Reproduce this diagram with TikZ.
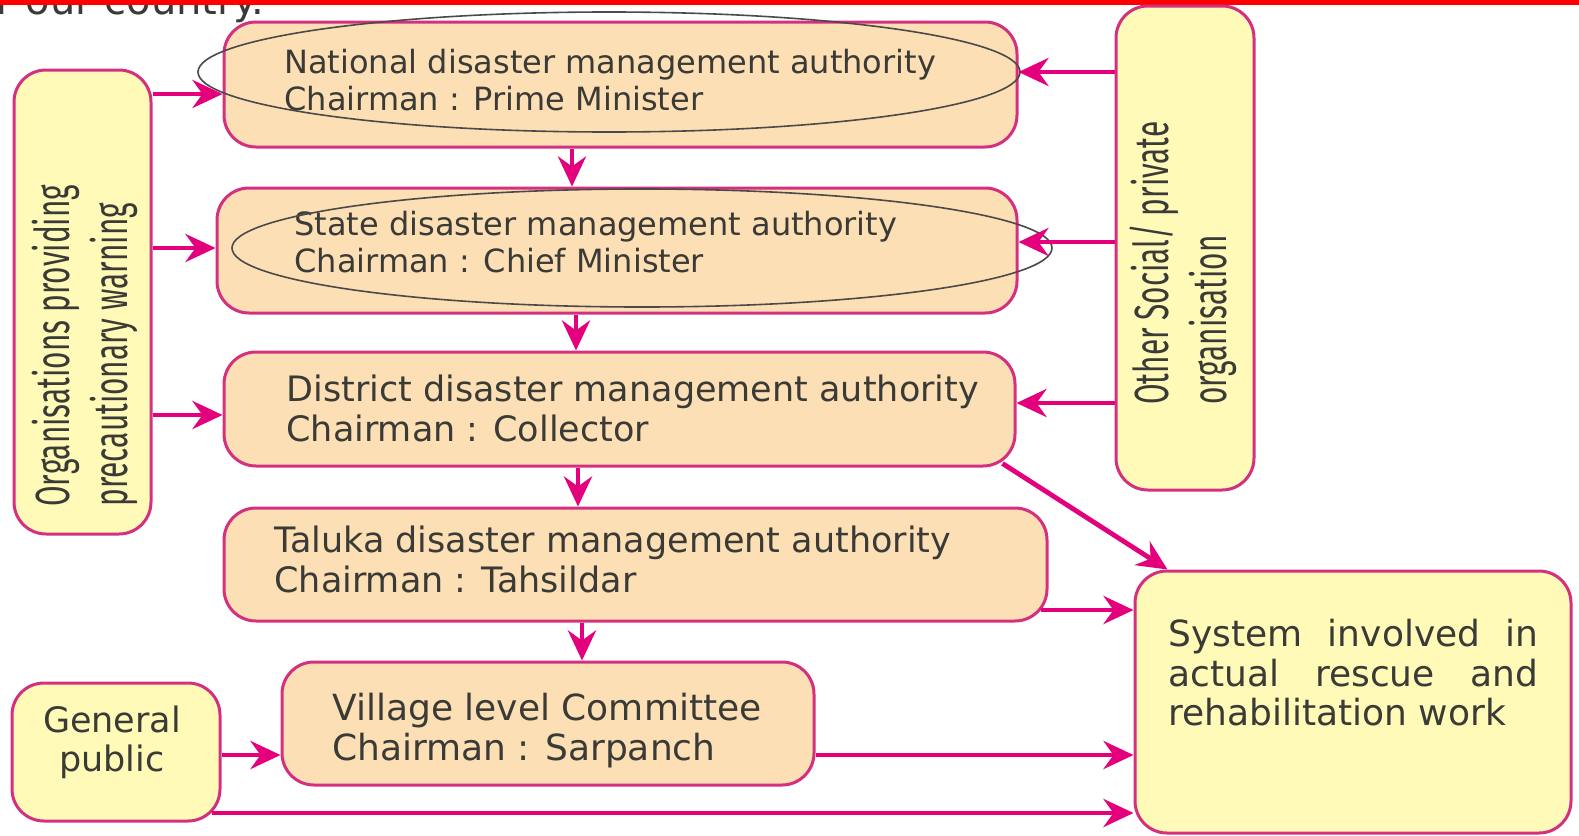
\documentclass[tikz,border=0pt]{standalone}
\usepackage{fontspec}
\setmainfont{DejaVu Sans}
\newfontfamily\condfont[FakeStretch=0.62]{Fira Sans}
\usepackage{xcolor}
\usetikzlibrary{arrows.meta,positioning,shapes.geometric}
\definecolor{pinkline}{HTML}{D4307F}
\definecolor{arrowpink}{HTML}{E4007C}
\definecolor{peach}{HTML}{FDDFB5}
\definecolor{paleyellow}{HTML}{FFFAB8}
\definecolor{inkgray}{HTML}{3A3A36}
\definecolor{ringgray}{HTML}{4A4A4A}
\definecolor{topred}{HTML}{FF0000}

\begin{document}
\begin{tikzpicture}[x=0.5pt, y=-0.5pt,
  authbox/.style={draw=pinkline, line width=1.5pt, fill=peach, rounded corners=16pt, inner sep=0pt},
  sidebox/.style={draw=pinkline, line width=1.5pt, fill=paleyellow, rounded corners=16pt, inner sep=0pt},
  txt/.style={text=inkgray, inner sep=0pt, align=left, font=\fontsize{17.5}{20}\selectfont},
  vtxt/.style={text=inkgray, inner sep=0pt, align=left, rotate=90, font=\condfont\fontsize{24}{29}\selectfont},
  ring/.style={draw=ringgray, line width=0.8pt, ellipse, inner sep=0pt},
  arr/.style={draw=arrowpink, line width=2.4pt, -{Stealth[length=15pt, width=14pt, inset=5pt]}}]

  \useasboundingbox (0,0) rectangle (1579,835);

  % Cut-off line above the chart
  \begin{scope}
    \clip (0,5) rectangle (1579,40);
    \node[txt, anchor=base west, font=\fontsize{20}{22}\selectfont] (topT) at (-4,14) {r our country.};
  \end{scope}
  \fill[topred] (0,0) rectangle (1579,5);

  % Define the boxes
  \node[authbox, minimum width=396.5pt, minimum height=62.5pt] (nat) at (620.5,84.5) {};
  \node[authbox, minimum width=400pt, minimum height=62.5pt] (state) at (617,250.5) {};
  \node[authbox, minimum width=395.5pt, minimum height=57pt] (dist) at (619.5,409) {};
  \node[authbox, minimum width=411.5pt, minimum height=56.5pt] (tal) at (635.5,564.5) {};
  \node[authbox, minimum width=266pt, minimum height=61.5pt] (vil) at (548,723.5) {};
  \node[sidebox, minimum width=104pt, minimum height=69pt] (gen) at (116,752) {};
  \node[sidebox, minimum width=218pt, minimum height=131pt] (sys) at (1353,702) {};
  \node[sidebox, minimum width=68.5pt, minimum height=232pt] (org) at (82.5,302) {};
  \node[sidebox, minimum width=69pt, minimum height=242pt] (oth) at (1185,248) {};

  % Texts in the boxes
  \node[txt, anchor=west, font=\fontsize{16}{18.5}\selectfont] (natT) at (284,80.5)
    {National disaster management authority\\Chairman : Prime Minister};
  \node[txt, anchor=west, font=\fontsize{16}{18.5}\selectfont] (stT) at (294,242.5)
    {State disaster management authority\\Chairman : Chief Minister};
  \node[txt, anchor=west] (diT) at (286,408)
    {District disaster management authority\\Chairman : Collector};
  \node[txt, anchor=west] (taT) at (274,559)
    {Taluka disaster management authority\\Chairman : Tahsildar};
  \node[txt, anchor=west, font=\fontsize{18}{20}\selectfont] (viT) at (332,731)
    {Village level Committee\\Chairman : Sarpanch};
  \node[txt, align=center, font=\fontsize{17.5}{19.5}\selectfont] (genT) at (112,742.5)
    {General\\public};
  \node[txt, anchor=west, text width=185pt, align=justify, font=\fontsize{18}{19.75}\selectfont] (sysT) at (1168,673)
    {System involved in actual rescue and rehabilitation work};
  \node[vtxt, anchor=west] (orgT) at (85,507)
    {Organisations providing\\precautionary warning};
  \node[vtxt, anchor=west] (othT) at (1183,405)
    {Other Social/ private\\organisation};

  % Rings drawn over the two top boxes
  \node[ring, minimum width=411pt, minimum height=60pt] (natE) at (609,72) {};
  \node[ring, minimum width=410pt, minimum height=59pt] (stE) at (642,248) {};

  % Draw arrows between boxes
  \draw[arr] (org.east |- 0,94) -- (nat.west |- 0,94);
  \draw[arr] (org.east |- 0,248) -- (state.west |- 0,248);
  \draw[arr] (org.east |- 0,415) -- (dist.west |- 0,415);
  \draw[arr] (oth.west |- 0,72) -- (nat.east |- 0,72);
  \draw[arr] (oth.west |- 0,242) -- (state.east |- 0,242);
  \draw[arr] (oth.west |- 0,403) -- (dist.east |- 0,403);
  \draw[arr] (nat.south -| 572,0) -- (state.north -| 572,0);
  \draw[arr] (state.south -| 576,0) -- (dist.north -| 576,0);
  \draw[arr] (dist.south -| 578,0) -- (tal.north -| 578,0);
  \draw[arr] (tal.south -| 582,0) -- (vil.north -| 582,0);
  \draw[arr] ([xshift=-7pt, yshift=2pt]dist.south east) -- ([xshift=17pt]sys.north west);
  \draw[arr] ([xshift=-4pt]tal.east |- 0,610) -- (sys.west |- 0,610);
  \draw[arr] (vil.east |- 0,755) -- (sys.west |- 0,755);
  \draw[arr] (gen.east |- 0,755) -- (vil.west |- 0,755);
  \draw[arr] ([xshift=-5pt]gen.east |- 0,813) -- (sys.west |- 0,813);
\end{tikzpicture}
\end{document}
